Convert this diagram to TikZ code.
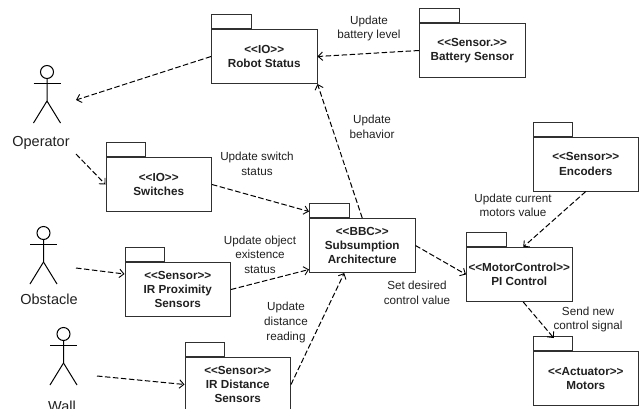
\documentclass[tikz,border=0pt]{standalone}
\usepackage{fontspec}
\setmainfont{Liberation Sans}
\usetikzlibrary{arrows.meta,calc}
\definecolor{ln}{HTML}{303030}
\definecolor{tx}{HTML}{202020}
\tikzset{
  x=1pt,y=-1pt,
  pkg/.style={draw=ln,line width=1pt,fill=white,minimum width=105.5pt,minimum height=54pt,inner sep=0pt,align=center,
     font=\fontsize{11.7}{14.3}\selectfont\bfseries,text=tx},
  tabbox/.style={draw=ln,line width=1pt,fill=white,minimum width=39.5pt,minimum height=14pt,inner sep=0pt},
  dep/.style={draw=black,line width=1pt,dash pattern=on 5.5pt off 2.5pt,-{Straight Barb[length=4.5pt,width=8.5pt,line width=0.9pt]}},
  lab/.style={align=center,inner sep=0pt,text=tx,font=\fontsize{11.7}{14.6}\selectfont},
  actname/.style={inner sep=0pt,text=tx,font=\fontsize{14.5}{16}\selectfont},
  actorline/.style={draw=black,line width=1pt}
}
\newcommand{\pack}[4]{% name, left, top of body, text
  \node[tabbox,anchor=south west] (#1tab) at (#2,#3) {};
  \node[pkg,anchor=north west] (#1) at (#2,#3) {#4};
}
\newcommand{\actorfig}[4]{% name, head x, head y, unused
  \draw[actorline] (#2,#3) circle (6.5pt);
  \draw[actorline] (#2,#3+6.5) -- (#2,#3+29) -- (#2-13.5,#3+51);
  \draw[actorline] (#2,#3+29) -- (#2+13.5,#3+51);
  \draw[actorline] (#2-13.5,#3+11.5) -- (#2+13.5,#3+11.5);
}
\begin{document}
\begin{tikzpicture}
\useasboundingbox (0,0) rectangle (643,408);
\clip (0,0) rectangle (643,408);
\pack{robot}{211}{29}{<{}<IO>{}>\\Robot Status}
\pack{battery}{419}{23}{<{}<Sensor.>{}>\\Battery Sensor}
\pack{switches}{105.5}{157}{<{}<IO>{}>\\Switches}
\pack{prox}{124.5}{262}{<{}<Sensor>{}>\\IR Proximity\\Sensors}
\pack{dist}{184.5}{357}{<{}<Sensor>{}>\\IR Distance\\Sensors}
\pack{bbc}{309}{218}{<{}<BBC>{}>\\Subsumption\\Architecture}
\pack{enc}{532.5}{136.5}{<{}<Sensor>{}>\\Encoders}
\pack{pi}{466}{247}{<{}<MotorControl>{}>\\PI Control}
\pack{motors}{532.5}{351}{<{}<Actuator>{}>\\Motors}

\actorfig{op}{47}{72}{}
\actorfig{ob}{43.5}{233}{}
\actorfig{wa}{63.5}{334}{}
\node[actname] (opl) at (41,143) {Operator};
\node[actname] (obl) at (49,299) {Obstacle};
\node[actname] (wal) at (62,406) {Wall};
\coordinate (opin) at (76,100);
\coordinate (opout) at (76,154);
\coordinate (obout) at (76,268);
\coordinate (waout) at (97,376);

\draw[dep] (robot.west) -- (opin);
\draw[dep] (opout) -- (switches.west);
\draw[dep] (switches.east) -- ([yshift=34pt]bbc.west);
\draw[dep] (obout) -- ([yshift=15.5pt]prox.west);
\draw[dep] (prox.east) -- ([yshift=-24pt]bbc.west);
\draw[dep] (waout) -- (dist.west);
\draw[dep] (dist.east) -- ([xshift=-18pt]bbc.south);
\draw[dep] (battery.west) -- (robot.east);
\draw[dep] (bbc.north) -- (robot.south east);
\draw[dep] (bbc.east) -- (pi.west);
\draw[dep] (enc.south) -- ([xshift=4pt]pi.north);
\draw[dep] ([xshift=4pt]pi.south) -- ([xshift=-32pt,yshift=13pt]motors.north);

\node[lab] (l1) at (369,28.5) {Update\\battery level};
\node[lab] (l2) at (372,127) {Update\\behavior};
\node[lab] (l3) at (257,164) {Update switch\\status};
\node[lab] (l4) at (513,205.5) {Update current\\motors value};
\node[lab] (l5) at (260,254.5) {Update object\\existence\\status};
\node[lab] (l6) at (286,322.5) {Update\\distance\\reading};
\node[lab] (l7) at (417,293) {Set desired\\control value};
\node[lab] (l8) at (588,319.5) {Send new\\control signal};
\end{tikzpicture}
\end{document}
